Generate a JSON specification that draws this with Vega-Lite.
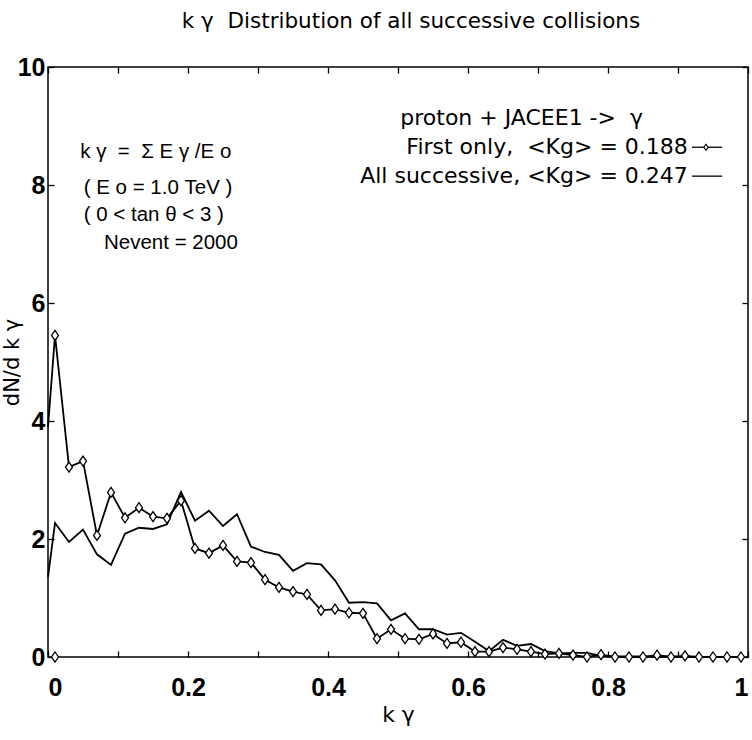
{
  "$schema": "https://vega.github.io/schema/vega-lite/v6.json",
  "width": 700,
  "height": 590,
  "autosize": {"type": "none"},
  "padding": {"left": 48, "top": 67, "right": 4, "bottom": 83},
  "background": "white",
  "title": {
    "text": "k γ\u00a0\u00a0Distribution of all successive collisions",
    "font": "DejaVu Sans",
    "fontSize": 21.5,
    "fontWeight": "normal",
    "color": "black",
    "anchor": "middle",
    "dx": 13,
    "offset": 23
  },
  "config": {
    "view": {"stroke": "black", "strokeWidth": 1.5},
    "axis": {
      "domain": false,
      "grid": false,
      "tickColor": "black",
      "tickWidth": 1.3,
      "labelColor": "black",
      "labelFont": "Liberation Sans Narrow, Liberation Sans",
      "labelFontSize": 25,
      "labelFontWeight": "bold",
      "titleColor": "black",
      "titleFont": "DejaVu Sans",
      "titleFontWeight": "normal"
    }
  },
  "datasets": {
    "all": [
      {"k": 0.0, "n": 1.36}, {"k": 0.01, "n": 2.27}, {"k": 0.03, "n": 1.95}, {"k": 0.05, "n": 2.16},
      {"k": 0.07, "n": 1.74}, {"k": 0.09, "n": 1.56}, {"k": 0.11, "n": 2.09}, {"k": 0.13, "n": 2.19},
      {"k": 0.15, "n": 2.17}, {"k": 0.17, "n": 2.25}, {"k": 0.19, "n": 2.8}, {"k": 0.21, "n": 2.31},
      {"k": 0.23, "n": 2.48}, {"k": 0.25, "n": 2.22}, {"k": 0.27, "n": 2.42}, {"k": 0.29, "n": 1.87},
      {"k": 0.31, "n": 1.78}, {"k": 0.33, "n": 1.73}, {"k": 0.35, "n": 1.46}, {"k": 0.37, "n": 1.59},
      {"k": 0.39, "n": 1.57}, {"k": 0.41, "n": 1.3}, {"k": 0.43, "n": 0.92}, {"k": 0.45, "n": 0.93},
      {"k": 0.47, "n": 0.91}, {"k": 0.49, "n": 0.62}, {"k": 0.51, "n": 0.74}, {"k": 0.53, "n": 0.47},
      {"k": 0.55, "n": 0.47}, {"k": 0.57, "n": 0.38}, {"k": 0.59, "n": 0.41}, {"k": 0.61, "n": 0.26},
      {"k": 0.63, "n": 0.1}, {"k": 0.65, "n": 0.29}, {"k": 0.67, "n": 0.19}, {"k": 0.69, "n": 0.22},
      {"k": 0.71, "n": 0.1}, {"k": 0.73, "n": 0.06}, {"k": 0.75, "n": 0.07}, {"k": 0.77, "n": 0.07},
      {"k": 0.79, "n": 0.02}, {"k": 0.81, "n": 0.01}, {"k": 0.83, "n": 0.01}, {"k": 0.85, "n": 0.01},
      {"k": 0.87, "n": 0.0}, {"k": 0.89, "n": 0.01}, {"k": 0.91, "n": 0.0}, {"k": 0.93, "n": 0.0},
      {"k": 0.95, "n": 0.0}, {"k": 0.97, "n": 0.0}, {"k": 0.99, "n": 0.0}
    ],
    "first": [
      {"k": 0.0, "n": 3.9}, {"k": 0.01, "n": 5.45}, {"k": 0.03, "n": 3.22}, {"k": 0.05, "n": 3.32},
      {"k": 0.07, "n": 2.06}, {"k": 0.09, "n": 2.79}, {"k": 0.11, "n": 2.36}, {"k": 0.13, "n": 2.53},
      {"k": 0.15, "n": 2.38}, {"k": 0.17, "n": 2.35}, {"k": 0.19, "n": 2.65}, {"k": 0.21, "n": 1.84},
      {"k": 0.23, "n": 1.76}, {"k": 0.25, "n": 1.89}, {"k": 0.27, "n": 1.62}, {"k": 0.29, "n": 1.6},
      {"k": 0.31, "n": 1.31}, {"k": 0.33, "n": 1.18}, {"k": 0.35, "n": 1.11}, {"k": 0.37, "n": 1.06},
      {"k": 0.39, "n": 0.79}, {"k": 0.41, "n": 0.81}, {"k": 0.43, "n": 0.75}, {"k": 0.45, "n": 0.74},
      {"k": 0.47, "n": 0.31}, {"k": 0.49, "n": 0.47}, {"k": 0.51, "n": 0.31}, {"k": 0.53, "n": 0.3},
      {"k": 0.55, "n": 0.39}, {"k": 0.57, "n": 0.23}, {"k": 0.59, "n": 0.25}, {"k": 0.61, "n": 0.09},
      {"k": 0.63, "n": 0.09}, {"k": 0.65, "n": 0.16}, {"k": 0.67, "n": 0.13}, {"k": 0.69, "n": 0.09},
      {"k": 0.71, "n": 0.05}, {"k": 0.73, "n": 0.06}, {"k": 0.75, "n": 0.03}, {"k": 0.77, "n": 0.0},
      {"k": 0.79, "n": 0.04}, {"k": 0.81, "n": 0.0}, {"k": 0.83, "n": 0.0}, {"k": 0.85, "n": 0.0},
      {"k": 0.87, "n": 0.03}, {"k": 0.89, "n": 0.0}, {"k": 0.91, "n": 0.02}, {"k": 0.93, "n": 0.0},
      {"k": 0.95, "n": 0.0}, {"k": 0.97, "n": 0.0}, {"k": 0.99, "n": 0.0}
    ],
    "firstEmpty": [{"k": 0.01, "n": 0.0}],
    "notesLeft": [
      {"k": 0.046, "n": 8.56, "text": "k\u00a0γ\u00a0\u00a0=\u00a0\u00a0Σ\u00a0E\u00a0γ\u00a0/E\u00a0o"},
      {"k": 0.051, "n": 7.95, "text": "(\u00a0E\u00a0o\u00a0=\u00a01.0\u00a0TeV\u00a0)"},
      {"k": 0.051, "n": 7.49, "text": "(\u00a00\u00a0<\u00a0tan\u00a0θ\u00a0<\u00a03\u00a0)"},
      {"k": 0.08, "n": 7.02, "text": "Nevent = 2000"}
    ],
    "notesRight": [
      {"k": 0.85, "n": 9.14, "text": "proton + JACEE1 ->\u00a0\u00a0γ"},
      {"k": 0.914, "n": 8.64, "text": "First only,\u00a0\u00a0<Kg> = 0.188"},
      {"k": 0.914, "n": 8.15, "text": "All successive, <Kg> = 0.247"}
    ],
    "keys": [
      {"k": 0.92, "k2": 0.963, "n": 8.64},
      {"k": 0.92, "k2": 0.963, "n": 8.15}
    ],
    "keyMarker": [{"k": 0.94, "n": 8.64}]
  },
  "resolve": {"axis": {"x": "independent", "y": "independent"}},
  "layer": [
    {
      "data": {"name": "all"},
      "mark": {"type": "line", "color": "black", "strokeWidth": 1.8},
      "encoding": {
        "x": {
          "field": "k", "type": "quantitative",
          "scale": {"domain": [0, 1], "nice": false},
          "axis": {
            "orient": "bottom",
            "values": [0, 0.1, 0.2, 0.3, 0.4, 0.5, 0.6, 0.7, 0.8, 0.9, 1],
            "format": "~g",
            "labelExpr": "round(datum.value * 10) % 2 === 0 ? datum.label : ''",
            "tickSize": -6,
            "labelPadding": 24,
            "title": "k γ",
            "titleFontSize": 22,
            "titlePadding": 4
          }
        },
        "y": {
          "field": "n", "type": "quantitative",
          "scale": {"domain": [0, 10], "nice": false},
          "axis": {
            "orient": "left",
            "values": [0, 2, 4, 6, 8, 10],
            "format": "d",
            "tickSize": -6,
            "labelPadding": 9,
            "title": "dN/d\u00a0k\u00a0γ",
            "titleFontSize": 21,
            "titleX": -36,
            "titleY": 295,
            "titleBaseline": "middle"
          }
        }
      }
    },
    {
      "data": {"name": "first"},
      "mark": {"type": "line", "color": "black", "strokeWidth": 1.8},
      "encoding": {
        "x": {
          "field": "k", "type": "quantitative",
          "axis": {
            "orient": "top",
            "values": [0, 0.1, 0.2, 0.3, 0.4, 0.5, 0.6, 0.7, 0.8, 0.9, 1],
            "labels": false,
            "tickSize": -6,
            "title": null
          }
        },
        "y": {
          "field": "n", "type": "quantitative",
          "axis": {
            "orient": "right",
            "values": [0, 2, 4, 6, 8, 10],
            "labels": false,
            "tickSize": -6,
            "title": null
          }
        }
      }
    },
    {
      "data": {"name": "first"},
      "transform": [{"filter": "datum.k > 0"}],
      "mark": {
        "type": "point",
        "shape": "M0,-1L0.7,0L0,1L-0.7,0Z",
        "filled": true,
        "fill": "white",
        "stroke": "black",
        "strokeWidth": 1.3,
        "size": 100,
        "opacity": 1
      },
      "encoding": {
        "x": {"field": "k", "type": "quantitative", "axis": null},
        "y": {"field": "n", "type": "quantitative", "axis": null}
      }
    },
    {
      "data": {"name": "firstEmpty"},
      "mark": {
        "type": "point",
        "shape": "M0,-1L0.7,0L0,1L-0.7,0Z",
        "filled": true,
        "fill": "white",
        "stroke": "black",
        "strokeWidth": 1.3,
        "size": 100,
        "opacity": 1
      },
      "encoding": {
        "x": {"field": "k", "type": "quantitative", "axis": null},
        "y": {"field": "n", "type": "quantitative", "axis": null}
      }
    },
    {
      "data": {"name": "notesLeft"},
      "mark": {"type": "text", "align": "left", "baseline": "middle", "font": "Liberation Sans", "fontSize": 20.5, "color": "black"},
      "encoding": {
        "x": {"field": "k", "type": "quantitative", "axis": null},
        "y": {"field": "n", "type": "quantitative", "axis": null},
        "text": {"field": "text"}
      }
    },
    {
      "data": {"name": "notesRight"},
      "mark": {"type": "text", "align": "right", "baseline": "middle", "font": "DejaVu Sans", "fontSize": 22, "color": "black"},
      "encoding": {
        "x": {"field": "k", "type": "quantitative", "axis": null},
        "y": {"field": "n", "type": "quantitative", "axis": null},
        "text": {"field": "text"}
      }
    },
    {
      "data": {"name": "keys"},
      "mark": {"type": "rule", "color": "black", "strokeWidth": 1.3},
      "encoding": {
        "x": {"field": "k", "type": "quantitative", "axis": null},
        "x2": {"field": "k2"},
        "y": {"field": "n", "type": "quantitative", "axis": null}
      }
    },
    {
      "data": {"name": "keyMarker"},
      "mark": {
        "type": "point",
        "shape": "M0,-1L0.7,0L0,1L-0.7,0Z",
        "filled": true,
        "fill": "white",
        "stroke": "black",
        "strokeWidth": 1.1,
        "size": 36,
        "opacity": 1
      },
      "encoding": {
        "x": {"field": "k", "type": "quantitative", "axis": null},
        "y": {"field": "n", "type": "quantitative", "axis": null}
      }
    }
  ]
}
